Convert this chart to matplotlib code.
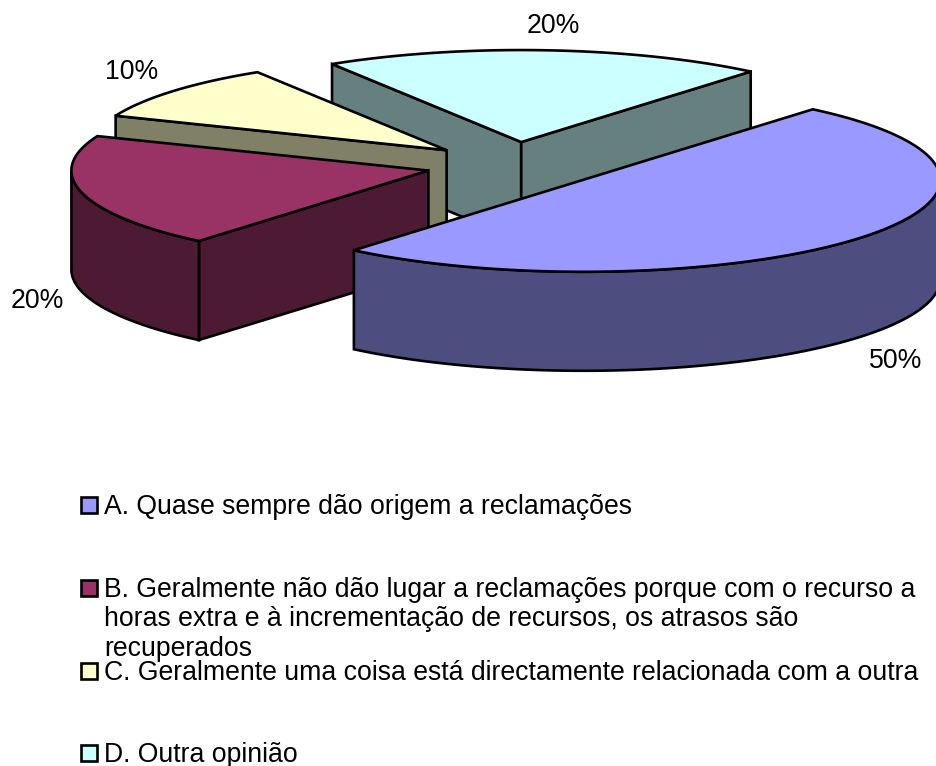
import numpy as np
import matplotlib
matplotlib.use("Agg")
import matplotlib.pyplot as plt
from matplotlib.patches import Polygon, Rectangle

plt.rcParams["font.family"] = ["Liberation Sans", "DejaVu Sans"]

# data
values = [50, 20, 10, 20]
legend_labels = [
    "A. Quase sempre dão origem a reclamações",
    "B. Geralmente não dão lugar a reclamações porque com o recurso a\nhoras extra e à incrementação de recursos, os atrasos são\nrecuperados",
    "C. Geralmente uma coisa está directamente relacionada com a outra",
    "D. Outra opinião",
]
top_colors = ["#9999FF", "#993366", "#FFFFCC", "#CCFFFF"]
side_colors = ["#4D4D80", "#4D1A33", "#808066", "#668080"]

# pie geometry in pixels
CX, CY = 515, 165
RX, RY = 357, 92
DEPTH = 99
EXPLODE = 0.25
START = 50  # first slice starts here, runs clockwise
LW = 1.9

label_pos = [(896, 361), (37, 301), (132, 72), (553, 26)]
legend_y = [505, 588, 671, 753]

fig = plt.figure(figsize=(9.37, 7.66), dpi=100)
ax = fig.add_axes([0, 0, 1, 1])
ax.set_xlim(0, 937)
ax.set_ylim(766, 0)
ax.axis("off")

edges = START - np.cumsum([0] + values) * 3.6
slices = []
for i in range(len(values)):
    t0, t1 = edges[i], edges[i + 1]
    mid = np.radians((t0 + t1) / 2)
    ox = CX + EXPLODE * RX * np.cos(mid)
    oy = CY - EXPLODE * RY * np.sin(mid)
    t = np.radians(np.linspace(t0, t1, 200))
    xs = ox + RX * np.cos(t)
    ys = oy - RY * np.sin(t)
    slices.append((i, ox, oy, xs, ys))

# back to front: D, C, B, A
for i, ox, oy, xs, ys in sorted(slices, key=lambda s: s[2]):
    # radial walls, the ones facing the viewer
    if xs[0] < ox:
        ax.add_patch(Polygon([(ox, oy), (xs[0], ys[0]), (xs[0], ys[0] + DEPTH), (ox, oy + DEPTH)],
                             fc=side_colors[i], ec="black", lw=LW))
    if ox < xs[-1]:
        ax.add_patch(Polygon([(ox, oy), (xs[-1], ys[-1]), (xs[-1], ys[-1] + DEPTH), (ox, oy + DEPTH)],
                             fc=side_colors[i], ec="black", lw=LW))
    # outer wall, only the part that faces the viewer
    front = np.r_[np.diff(xs) < 0, False]
    front[1:] |= front[:-1]
    if front.sum() > 1:
        fx, fy = xs[front], ys[front]
        wall = np.column_stack([np.r_[fx, fx[::-1]], np.r_[fy, fy[::-1] + DEPTH]])
        ax.add_patch(Polygon(wall, fc=side_colors[i], ec="black", lw=LW))
    # top
    top = np.column_stack([np.r_[ox, xs], np.r_[oy, ys]])
    ax.add_patch(Polygon(top, fc=top_colors[i], ec="black", lw=LW))

for v, (x, y) in zip(values, label_pos):
    ax.text(x, y, f"{v}%", fontsize=19.15, ha="center", va="center", color="black")

for i, (lab, y) in enumerate(zip(legend_labels, legend_y)):
    ax.add_patch(Rectangle((81, y - 8), 16, 16, fc=top_colors[i], ec="black", lw=LW))
    ax.text(104, y - 11, lab, fontsize=19.15, ha="left", va="top", color="black", linespacing=1.17)

fig.savefig("out.png", dpi=100)
